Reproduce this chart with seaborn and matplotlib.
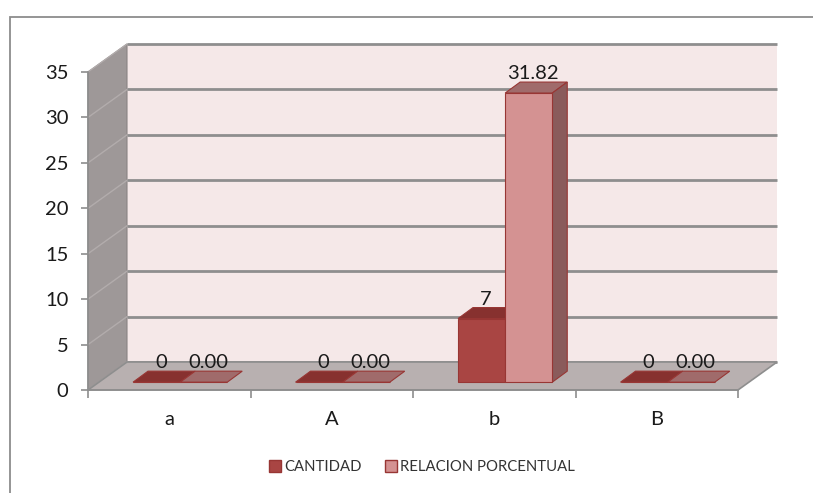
import matplotlib
matplotlib.use("Agg")
import matplotlib.pyplot as plt
from matplotlib.patches import Polygon, Rectangle, Patch
import seaborn as sns
import pandas as pd

# chart values
categorias = ["a", "A", "b", "B"]
cantidad = [0, 0, 7, 0]
relacion = [0.00, 0.00, 31.82, 0.00]
series = ["CANTIDAD", "RELACION PORCENTUAL"]
yticks = [0, 5, 10, 15, 20, 25, 30, 35]

df = pd.DataFrame({
    "cat": categorias * 2,
    "valor": cantidad + relacion,
    "serie": [series[0]] * 4 + [series[1]] * 4,
})

sns.set_style("white")
plt.rcParams["font.family"] = ["Lato", "DejaVu Sans"]

W, H = 813, 493
fig = plt.figure(figsize=(W / 100, H / 100), dpi=100)
ax = fig.add_axes([88 / W, 1 - 390 / H, 650 / W, 318 / H])
ax.patch.set_alpha(0)

# 3d look: depth of the whole box and of the bars (data units)
DX, DY = 0.24, 3.08
F0 = 0.28
BDX, BDY = 0.092, 1.21

ax.set_xlim(-0.5, 3.5)
ax.set_ylim(0, 35)

# walls and floor
grid = "#8E8E8E"
back = Rectangle((-0.5 + DX, DY), 4, 35, facecolor="#F5E8E8", edgecolor="none",
                 zorder=0.5, clip_on=False)
ax.add_patch(back)
side = Polygon([(-0.5, 0), (-0.5 + DX, DY), (-0.5 + DX, 35 + DY), (-0.5, 35)],
               closed=True, facecolor="#9E9898", edgecolor="#8A8484", lw=0.8,
               zorder=0.55, clip_on=False)
ax.add_patch(side)
floor = Polygon([(-0.5, 0), (3.5, 0), (3.5 + DX, DY), (-0.5 + DX, DY)],
                closed=True, facecolor="#B8B0B0", edgecolor=grid, lw=1.2,
                zorder=0.6, clip_on=False)
ax.add_patch(floor)
for v in yticks:
    ax.plot([-0.5 + DX, 3.5 + DX], [v + DY, v + DY], color=grid, lw=2,
            zorder=0.58, clip_on=False, solid_capstyle="butt")
    ax.plot([-0.5, -0.5 + DX], [v, v + DY], color="#B2ACAC", lw=1,
            zorder=0.57, clip_on=False)

colors = ["#A94543", "#D49292"]
tops = ["#87312F", "#A06B6B"]
sides = ["#7A2C2B", "#8A5B5B"]

sns.barplot(data=df, x="cat", y="valor", hue="serie", order=categorias,
            hue_order=series, palette=colors, saturation=1, width=0.58,
            dodge=True, edgecolor="#983634", linewidth=0.8, legend=False, ax=ax)

for i, cont in enumerate(ax.containers):
    vals = cantidad if i == 0 else relacion
    for p, v in zip(cont.patches, vals):
        p.set_x(p.get_x() + F0 * DX)
        p.set_y(F0 * DY)
        p.set_zorder(3 + i)
        x0 = p.get_x()
        x1 = x0 + p.get_width()
        y0 = p.get_y()
        y1 = y0 + p.get_height()
        top = Polygon([(x0, y1), (x1, y1), (x1 + BDX, y1 + BDY), (x0 + BDX, y1 + BDY)],
                      closed=True, facecolor=tops[i], edgecolor="#983634", lw=0.8,
                      zorder=2.5 + i, clip_on=False)
        ax.add_patch(top)
        if v > 0:
            sd = Polygon([(x1, y0), (x1 + BDX, y0 + BDY), (x1 + BDX, y1 + BDY), (x1, y1)],
                         closed=True, facecolor=sides[i], edgecolor="#983634", lw=0.8,
                         zorder=2.5 + i, clip_on=False)
            ax.add_patch(sd)
        txt = f"{v:d}" if i == 0 else f"{v:.2f}"
        ax.annotate(txt, (x0 + p.get_width() / 2 + 0.3 * BDX, y1 + BDY),
                    xytext=(0, 3), textcoords="offset pixels", ha="center",
                    va="baseline", fontsize=14.5, color="#1A1A1A", zorder=6,
                    annotation_clip=False)

# axes
ax.set_yticks(yticks)
ax.set_xticks(range(len(categorias)))
ax.set_xticklabels(categorias)
ax.set_xticks([-0.5, 0.5, 1.5, 2.5, 3.5], minor=True)
ax.tick_params(axis="y", which="major", length=5, width=1.2, color=grid,
               labelsize=14.5, labelcolor="#1A1A1A", pad=9, left=True)
ax.tick_params(axis="x", which="major", length=0, labelsize=14.5,
               labelcolor="#1A1A1A", pad=15)
ax.tick_params(axis="x", which="minor", length=6, width=1.2, color=grid, bottom=True)
ax.set_xlabel("")
ax.set_ylabel("")
for s in ["top", "right"]:
    ax.spines[s].set_visible(False)
for s in ["left", "bottom"]:
    ax.spines[s].set_color(grid)
    ax.spines[s].set_linewidth(1.2)
    ax.spines[s].set_zorder(2)

handles = [Patch(facecolor=colors[0], edgecolor="#983634", label=series[0]),
           Patch(facecolor=colors[1], edgecolor="#983634", label=series[1])]
fig.legend(handles=handles, loc="center", bbox_to_anchor=(422 / W, 1 - 467 / H),
           ncol=2, frameon=False, fontsize=10.7, handlelength=0.8,
           handleheight=0.8, handletextpad=0.2, columnspacing=1.6,
           labelcolor="#333333")

# outer chart border
fig.patches.append(Rectangle((10 / W, -0.1), 1.2, (1 - 17 / H) + 0.1,
                             transform=fig.transFigure, fill=False,
                             edgecolor="#8C8C8C", lw=1.3))

fig.savefig("out.png", dpi=100)
